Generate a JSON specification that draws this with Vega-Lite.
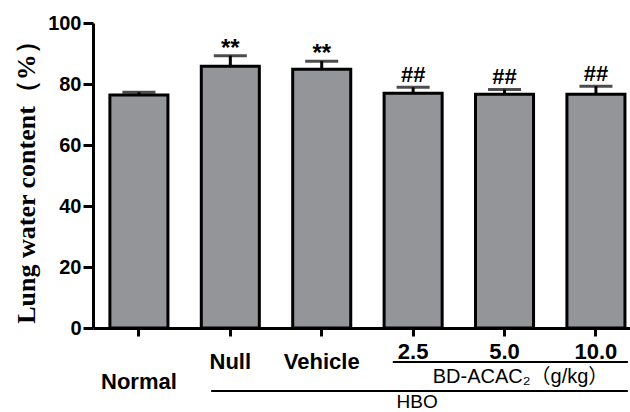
{
  "$schema": "https://vega.github.io/schema/vega-lite/v6.json",
  "width": 537,
  "height": 305,
  "autosize": {"type": "none"},
  "padding": {"left": 93, "top": 23, "right": 0, "bottom": 84},
  "background": "white",
  "config": {
    "view": {"stroke": null},
    "axis": {"grid": false, "domainColor": "black", "tickColor": "black", "labelColor": "black", "titleColor": "black", "domainWidth": 3, "tickWidth": 3}
  },
  "data": {
    "values": [
      {"group": "Normal", "mean": 76.4, "upper": 77.3, "sig": ""},
      {"group": "Null", "mean": 85.8, "upper": 89.3, "sig": "**"},
      {"group": "Vehicle", "mean": 84.8, "upper": 87.5, "sig": "**"},
      {"group": "2.5", "mean": 77.0, "upper": 78.9, "sig": "##"},
      {"group": "5.0", "mean": 76.6, "upper": 78.2, "sig": "##"},
      {"group": "10.0", "mean": 76.6, "upper": 79.3, "sig": "##"}
    ]
  },
  "encoding": {
    "x": {
      "field": "group",
      "type": "nominal",
      "scale": {"domain": ["Normal", "Null", "Vehicle", "2.5", "5.0", "10.0"], "paddingInner": 0.365, "paddingOuter": 0.12, "align": 0.77},
      "axis": {
        "title": null,
        "labelAngle": 0,
        "labelFont": "Liberation Sans",
        "labelFontWeight": "bold",
        "labelFontSize": 22,
        "tickSize": 8,
        "labelPadding": {
          "condition": [
            {"test": "datum.value === 'Normal'", "value": 35},
            {"test": "datum.value === 'Null' || datum.value === 'Vehicle'", "value": 15}
          ],
          "value": 5
        }
      }
    }
  },
  "layer": [
    {
      "mark": {"type": "bar", "fill": "#939598", "stroke": "black", "strokeWidth": 3},
      "encoding": {
        "y": {
          "field": "mean",
          "type": "quantitative",
          "scale": {"domain": [0, 100], "nice": false},
          "axis": {
            "values": [0, 20, 40, 60, 80, 100],
            "title": "Lung water content（%）",
            "titleFont": "Liberation Serif",
            "titleFontWeight": "bold",
            "titleFontSize": 26,
            "titlePadding": 8,
            "labelFont": "Liberation Sans",
            "labelFontWeight": "bold",
            "labelFontSize": 20,
            "tickSize": 10,
            "labelPadding": 2
          }
        }
      }
    },
    {
      "mark": {"type": "rule", "color": "black", "strokeWidth": 3},
      "encoding": {
        "y": {"field": "mean", "type": "quantitative"},
        "y2": {"field": "upper"}
      }
    },
    {
      "mark": {"type": "tick", "color": "black", "size": 33, "thickness": 3},
      "encoding": {
        "y": {"field": "upper", "type": "quantitative"}
      }
    },
    {
      "transform": [{"filter": "datum.sig === '**'"}],
      "mark": {"type": "text", "font": "Liberation Sans", "fontWeight": "bold", "fontSize": 24, "baseline": "alphabetic", "dy": 0, "color": "black"},
      "encoding": {
        "y": {"field": "upper", "type": "quantitative"},
        "text": {"field": "sig"}
      }
    },
    {
      "transform": [{"filter": "datum.sig === '##'"}],
      "mark": {"type": "text", "font": "Liberation Sans", "fontWeight": "bold", "fontSize": 22, "baseline": "alphabetic", "dy": -5, "color": "black"},
      "encoding": {
        "y": {"field": "upper", "type": "quantitative"},
        "text": {"field": "sig"}
      }
    },
    {
      "data": {"values": [{"from": "2.5", "to": "10.0", "mid": "5.0", "label": "BD-ACAC₂（g/kg）"}]},
      "layer": [
        {
          "mark": {"type": "rule", "color": "black", "strokeWidth": 2},
          "encoding": {
            "x": {"field": "from", "type": "nominal", "bandPosition": 0.15},
            "x2": {"field": "to", "bandPosition": 1.05},
            "y": {"datum": -11.15, "type": "quantitative"}
          }
        },
        {
          "mark": {"type": "text", "font": "Liberation Sans, Noto Sans CJK SC", "fontSize": 20, "baseline": "alphabetic", "dx": 16, "color": "black"},
          "encoding": {
            "x": {"field": "mid", "type": "nominal", "bandPosition": 0.5},
            "y": {"datum": -18.0, "type": "quantitative"},
            "text": {"field": "label"}
          }
        }
      ]
    },
    {
      "data": {"values": [{"from": "Null", "to": "10.0", "mid": "2.5", "label": "HBO"}]},
      "layer": [
        {
          "mark": {"type": "rule", "color": "black", "strokeWidth": 2},
          "encoding": {
            "x": {"field": "from", "type": "nominal", "bandPosition": 0.17},
            "x2": {"field": "to", "bandPosition": 1.05},
            "y": {"datum": -20.66, "type": "quantitative"}
          }
        },
        {
          "mark": {"type": "text", "font": "Liberation Sans", "fontSize": 19, "baseline": "alphabetic", "dx": 4, "color": "black"},
          "encoding": {
            "x": {"field": "mid", "type": "nominal", "bandPosition": 0.5},
            "y": {"datum": -26.2, "type": "quantitative"},
            "text": {"field": "label"}
          }
        }
      ]
    }
  ]
}
